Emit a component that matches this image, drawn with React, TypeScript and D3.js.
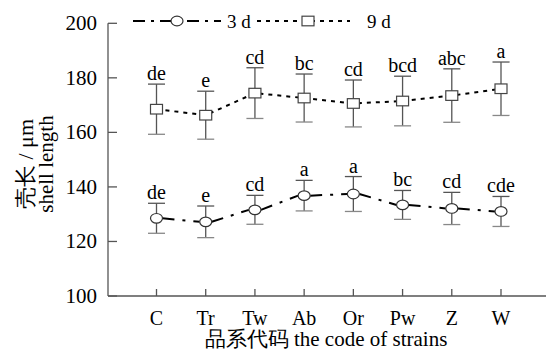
import React from "react";
import * as d3 from "d3";

const categories = ["C", "Tr", "Tw", "Ab", "Or", "Pw", "Z", "W"];
const mean3d = [128.5, 127.2, 131.6, 136.8, 137.4, 133.4, 132.1, 131.0];
const err3d = [5.5, 5.8, 5.3, 5.6, 6.4, 5.3, 5.9, 5.5];
const letters3d = ["de", "e", "cd", "a", "a", "bc", "cd", "cde"];
const mean9d = [168.5, 166.3, 174.4, 172.6, 170.6, 171.5, 173.5, 176.0];
const err9d = [9.2, 8.8, 9.3, 8.8, 8.6, 9.1, 9.8, 9.8];
const letters9d = ["de", "e", "cd", "bc", "cd", "bcd", "abc", "a"];
const yTicks = [100, 120, 140, 160, 180, 200];
const seriesNames = ["3 d", "9 d"];

const W = 546;
const H = 353;

export default function App() {
  const x = d3.scalePoint<string>().domain(categories).range([156.5, 501]);
  const y = d3.scaleLinear().domain([100, 200]).range([296, 23.3]);
  const axisColor = "#555";
  const line = d3
    .line<number>()
    .x((d, i) => x(categories[i]) as number)
    .y((d) => y(d));

  // per-segment paths so each segment starts with a long dash (dash-dot style)
  const segs = (vals: number[]) =>
    vals.slice(0, -1).map((v, i) => {
      const x0 = x(categories[i]) as number;
      const x1 = x(categories[i + 1]) as number;
      return d3.line()([
        [x0 + 6, y(v)],
        [x1 - 6, y(vals[i + 1])],
      ]);
    });

  const renderErr = (means: number[], errs: number[], letters: string[]) =>
    means.map((m, i) => {
      const cx = x(categories[i]) as number;
      const top = y(m + errs[i]);
      const bot = y(m - errs[i]);
      return (
        <g key={i}>
          <line x1={cx} x2={cx} y1={top} y2={bot} stroke={axisColor} strokeWidth={1.3} />
          <line x1={cx - 8.5} x2={cx + 8.5} y1={top} y2={top} stroke={axisColor} strokeWidth={1.3} />
          <line x1={cx - 8.5} x2={cx + 8.5} y1={bot} y2={bot} stroke="#888" strokeWidth={1.3} />
          <text x={cx} y={top - 4} textAnchor="middle" fontSize={20}>
            {letters[i]}
          </text>
        </g>
      );
    });

  return (
    <svg
      width={W}
      height={H}
      style={{
        position: "absolute",
        left: 0,
        top: 0,
        background: "#fff",
        fontFamily: '"Liberation Serif", "DejaVu Serif", serif',
      }}
    >
      {/* axes */}
      <line x1={108} x2={108} y1={y(200)} y2={y(100)} stroke={axisColor} strokeWidth={1.3} />
      <line x1={108} x2={546} y1={y(100)} y2={y(100)} stroke={axisColor} strokeWidth={1.3} />
      {yTicks.map((t) => (
        <g key={t}>
          <line x1={108} x2={117} y1={y(t)} y2={y(t)} stroke={axisColor} strokeWidth={1.3} />
          <text x={97} y={y(t) + 7} textAnchor="end" fontSize={21}>
            {t}
          </text>
        </g>
      ))}
      {categories.map((c) => (
        <g key={c}>
          <line x1={x(c)} x2={x(c)} y1={y(100)} y2={y(100) - 7} stroke={axisColor} strokeWidth={1.3} />
          <text x={x(c)} y={325} textAnchor="middle" fontSize={20}>
            {c}
          </text>
        </g>
      ))}
      <text x={326} y={346} textAnchor="middle" fontSize={21}>
        品系代码 the code of strains
      </text>
      <g transform="translate(33,164) rotate(-90)">
        <text x={0} y={0} textAnchor="middle" fontSize={22}>
          壳长 / μm
        </text>
        <text x={0} y={20} textAnchor="middle" fontSize={21}>
          shell length
        </text>
      </g>

      {/* lines */}
      {segs(mean3d).map((d, i) => (
        <path key={"l3" + i} d={d || ""} fill="none" stroke="#000" strokeWidth={2} strokeDasharray="12 8 3 8" />
      ))}
      <path d={line(mean9d) || ""} fill="none" stroke="#000" strokeWidth={2} strokeDasharray="4 5" />

      {renderErr(mean3d, err3d, letters3d)}
      {renderErr(mean9d, err9d, letters9d)}

      {mean3d.map((m, i) => (
        <ellipse key={"c" + i} cx={x(categories[i])} cy={y(m)} rx={6} ry={4.8} fill="#fff" stroke="#333" strokeWidth={1.2} />
      ))}
      {mean9d.map((m, i) => (
        <rect key={"s" + i} x={(x(categories[i]) as number) - 6} y={y(m) - 4.8} width={12} height={9.6} fill="#fff" stroke="#444" strokeWidth={1.2} />
      ))}

      {/* legend */}
      <g>
        <line x1={133} x2={221} y1={21} y2={21} stroke="#000" strokeWidth={2} strokeDasharray="12 6 3 6" />
        <ellipse cx={177} cy={21} rx={6} ry={4.8} fill="#fff" stroke="#333" strokeWidth={1.2} />
        <text x={227} y={28} fontSize={19}>
          {seriesNames[0]}
        </text>
        <line x1={257} x2={350} y1={21} y2={21} stroke="#000" strokeWidth={2} strokeDasharray="4 5" />
        <rect x={302} y={16.2} width={12} height={9.6} fill="#fff" stroke="#444" strokeWidth={1.2} />
        <text x={367} y={28} fontSize={19}>
          {seriesNames[1]}
        </text>
      </g>
    </svg>
  );
}
